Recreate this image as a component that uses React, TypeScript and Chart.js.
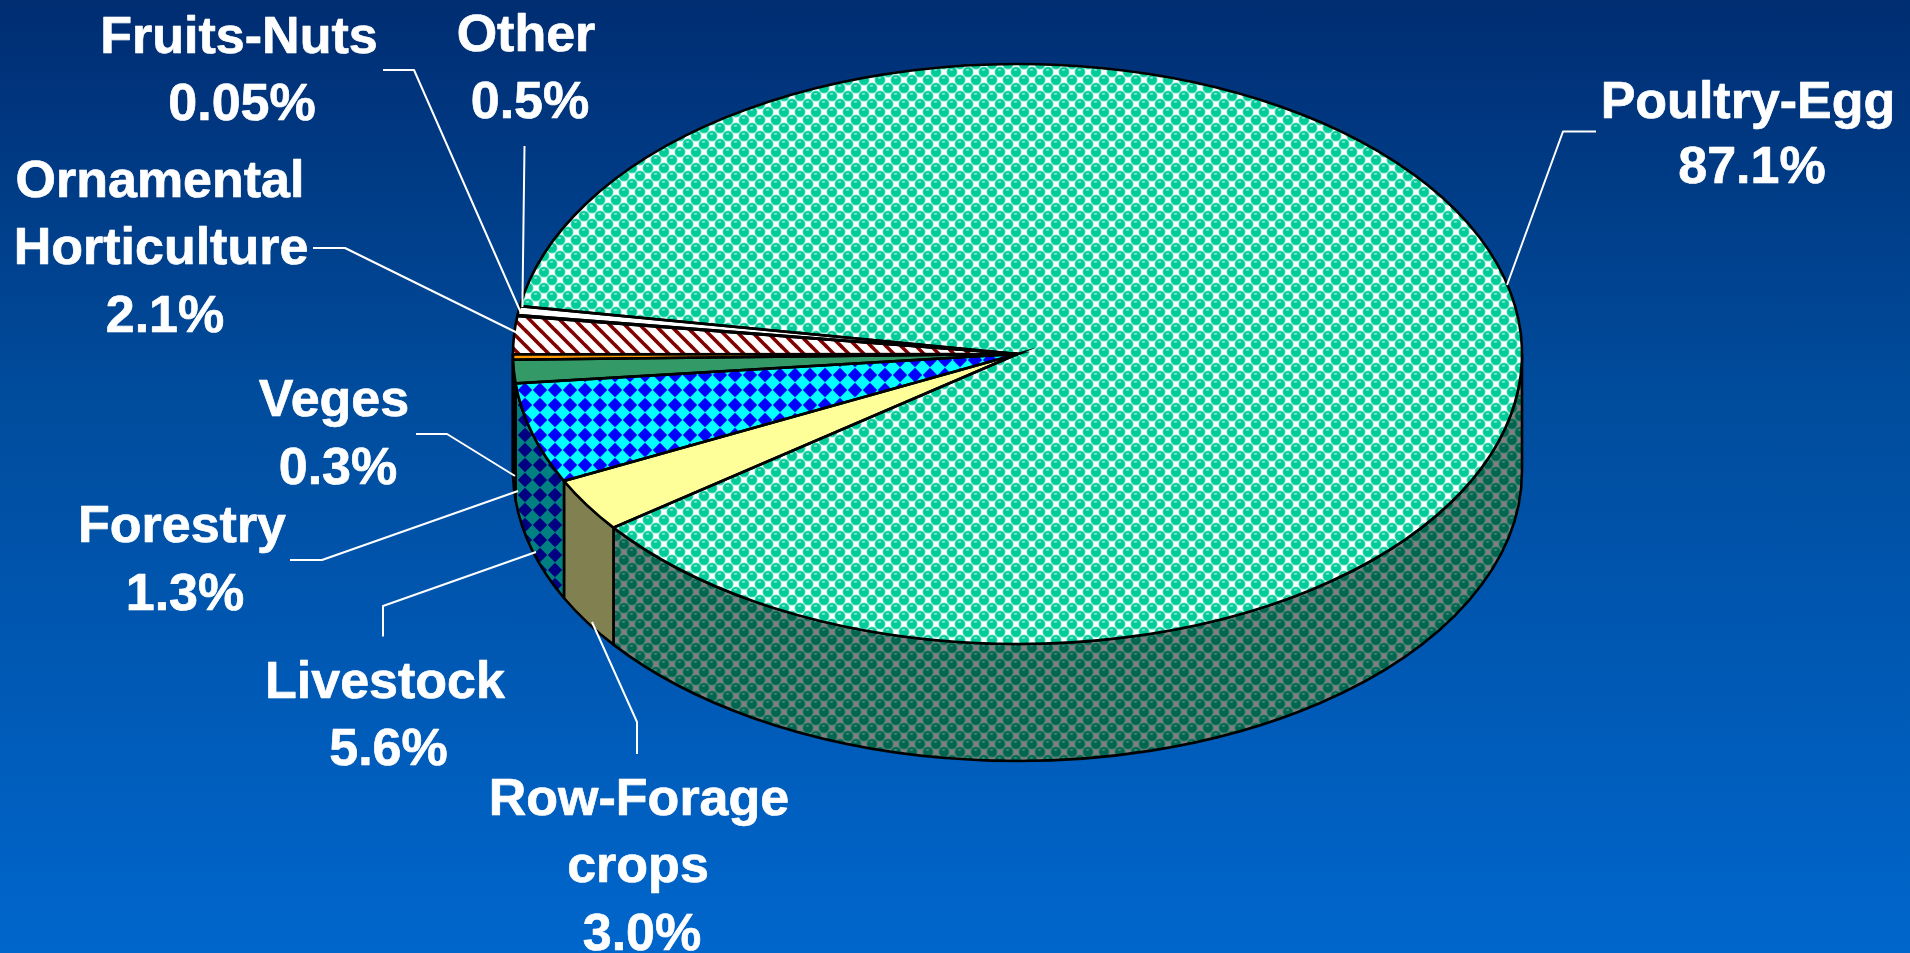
import React, { useEffect, useRef } from "react";
import { Chart, registerables } from "chart.js";

Chart.register(...registerables);

// ---- data ----
const categories = ["Poultry-Egg", "Row-Forage crops", "Livestock", "Forestry", "Veges", "Ornamental Horticulture", "Fruits-Nuts", "Other"];
const shares = [87.1, 3.0, 5.6, 1.3, 0.3, 2.1, 0.05, 0.5];
const shareLabels = ["87.1%", "3.0%", "5.6%", "1.3%", "0.3%", "2.1%", "0.05%", "0.5%"];
const labelLines = [["Poultry-Egg"], ["Row-Forage", "crops"], ["Livestock"], ["Forestry"], ["Veges"], ["Ornamental", "Horticulture"], ["Fruits-Nuts"], ["Other"]];

// ---- layout ----
const WIDTH = 1910;
const HEIGHT = 953;
const PIE_LEFT = 513;
const PIE_RIGHT = 1522;
const PIE_TOP = 64;
const PIE_BOTTOM = 644;
const DEPTH = 117;
const ROTATION = 279.5;
const textAnchors = [
  [[1748, 118], [1752, 183]],
  [[639, 815], [638, 881.5], [642, 950]],
  [[385, 698], [388.5, 765]],
  [[182, 541.5], [185, 610]],
  [[334, 416], [338, 484]],
  [[160, 197], [161, 264], [165, 332]],
  [[239, 53], [242, 120]],
  [[526, 51], [530, 118]],
];
const leaderPaths = [
  [[1596, 131.5], [1563, 131.5], [1507, 285]],
  [[637, 754], [637, 722], [592, 622]],
  [[383, 636.5], [383, 606], [536, 552]],
  [[290, 560], [322, 560], [518, 491]],
  [[416, 434], [447, 434], [515, 476]],
  [[313, 248], [345, 248], [517.6, 333]],
  [[383, 70], [414, 70], [521, 313]],
  [[524.5, 146], [522.4, 307]],
];

// ---- fills ----
function tile(w: number, h: number, paint: (c: CanvasRenderingContext2D) => void): CanvasPattern {
  const cv = document.createElement("canvas");
  cv.width = w;
  cv.height = h;
  const c = cv.getContext("2d")!;
  paint(c);
  return c.createPattern(cv, "repeat")!;
}

function spheres(bg: string, ball: string, shine: string, rim: string) {
  const size = 16;
  return tile(size, size, (c) => {
    c.fillStyle = bg;
    c.fillRect(0, 0, size, size);
    const ballAt = (x: number, y: number) => {
      c.fillStyle = rim;
      c.beginPath();
      c.arc(x, y, 5.5, 0, Math.PI * 2);
      c.fill();
      c.fillStyle = ball;
      c.beginPath();
      c.arc(x, y, 4.6, 0, Math.PI * 2);
      c.fill();
      c.fillStyle = shine;
      c.beginPath();
      c.ellipse(x - 0.5, y - 2.2, 1.8, 0.9, 0, 0, Math.PI * 2);
      c.fill();
    };
    [[0, 0], [16, 0], [0, 16], [16, 16], [8, 8]].forEach(([x, y]) => ballAt(x, y));
  });
}

function diamonds(bg: string, fg: string) {
  const size = 15;
  return tile(size, size, (c) => {
    c.fillStyle = bg;
    c.fillRect(0, 0, size, size);
    c.fillStyle = fg;
    const r = 7.2;
    [[0, 0], [15, 0], [0, 15], [15, 15]].forEach(([x, y]) => {
      c.beginPath();
      c.moveTo(x - r, y);
      c.lineTo(x, y - r);
      c.lineTo(x + r, y);
      c.lineTo(x, y + r);
      c.closePath();
      c.fill();
    });
  });
}

function stripes(bg: string, fg: string) {
  const size = 15;
  return tile(size, size, (c) => {
    c.fillStyle = bg;
    c.fillRect(0, 0, size, size);
    c.strokeStyle = fg;
    c.lineWidth = 3.6;
    for (let o = -size; o <= size; o += size) {
      c.beginPath();
      c.moveTo(o - 2, -2);
      c.lineTo(o + size + 2, size + 2);
      c.stroke();
    }
  });
}

export default function App() {
  const ref = useRef<HTMLCanvasElement>(null);

  useEffect(() => {
    document.body.style.margin = "0";
    const topPoultry = spheres("#FFFFFF", "#00CC99", "#8FE8D2", "#4FDCB8");
    const topLivestock = diamonds("#00FFFF", "#0000FF");
    const topOrnamental = stripes("#FFFFFF", "#800000");
    const topFills: (string | CanvasPattern)[] = ["", "#FFFF99", "", "#339966", "#FF9900", "", "#FFFFFF", "#FFFFFF"];
    topFills[0] = topPoultry;
    topFills[2] = topLivestock;
    topFills[5] = topOrnamental;
    const wallFills: (string | CanvasPattern)[] = [
      spheres("#808080", "#006650", "#408C78", "#2A7A66"),
      "#808050",
      diamonds("#008080", "#000080"),
      "#1A4D33",
      "#804D00",
      "#808080",
      "#808080",
      "#808080",
    ];

    const pie3d = {
      id: "pie3d",
      beforeDatasetsDraw(chart: any) {
        const { ctx, chartArea } = chart;
        const arcs = chart.getDatasetMeta(0).data;
        const rx = chartArea.width / 2;
        const ry = chartArea.height / 2;
        const cx = chartArea.left + rx;
        const cy = chartArea.top + ry;
        const sx = rx / ry;
        // walls: the lower half of the rim, dropped by the pie's depth
        ctx.save();
        ctx.strokeStyle = "#000000";
        ctx.lineWidth = 2.6;
        ctx.lineJoin = "round";
        const turn = Math.PI * 2;
        arcs.forEach((arc: any, i: number) => {
          const { startAngle, endAngle } = arc.getProps(["startAngle", "endAngle"], true);
          for (let k = -1; k <= 3; k++) {
            const a0 = Math.max(startAngle, k * turn);
            const a1 = Math.min(endAngle, k * turn + Math.PI);
            if (a1 <= a0) continue;
            ctx.beginPath();
            ctx.ellipse(cx, cy, rx, ry, 0, a0, a1);
            ctx.ellipse(cx, cy + DEPTH, rx, ry, 0, a1, a0, true);
            ctx.closePath();
            ctx.fillStyle = wallFills[i];
            ctx.fill();
            ctx.stroke();
          }
        });
        ctx.restore();
        // keep the top patterns undistorted by the squash used for the arcs
        const undo = new DOMMatrix().translate(cx, cy).scale(1 / sx, 1).translate(-cx, -cy);
        [topPoultry, topLivestock, topOrnamental].forEach((p) => p.setTransform(undo));
      },
      beforeDatasetDraw(chart: any) {
        const { ctx, chartArea } = chart;
        const rx = chartArea.width / 2;
        const ry = chartArea.height / 2;
        const cx = chartArea.left + rx;
        const cy = chartArea.top + ry;
        ctx.save();
        ctx.translate(cx, cy);
        ctx.scale(rx / ry, 1);
        ctx.translate(-cx, -cy);
      },
      afterDatasetDraw(chart: any) {
        const { ctx, chartArea } = chart;
        ctx.restore();
        const arcs = chart.getDatasetMeta(0).data;
        const rx = chartArea.width / 2;
        const ry = chartArea.height / 2;
        const cx = chartArea.left + rx;
        const cy = chartArea.top + ry;
        ctx.save();
        ctx.strokeStyle = "#000000";
        ctx.lineWidth = 2.6;
        ctx.lineJoin = "miter";
        ctx.miterLimit = 20;
        arcs.forEach((arc: any) => {
          const { startAngle, endAngle } = arc.getProps(["startAngle", "endAngle"], true);
          ctx.beginPath();
          ctx.moveTo(cx, cy);
          ctx.ellipse(cx, cy, rx, ry, 0, startAngle, endAngle);
          ctx.closePath();
          ctx.stroke();
        });
        ctx.restore();
      },
      afterDatasetsDraw(chart: any) {
        const { ctx } = chart;
        ctx.save();
        ctx.strokeStyle = "#FFFFFF";
        ctx.lineWidth = 2;
        ctx.lineJoin = "round";
        leaderPaths.forEach((path) => {
          ctx.beginPath();
          path.forEach(([x, y], j) => (j ? ctx.lineTo(x, y) : ctx.moveTo(x, y)));
          ctx.stroke();
        });
        ctx.fillStyle = "#FFFFFF";
        ctx.lineWidth = 0.7;
        ctx.font = 'bold 52px "Liberation Sans", Arial, sans-serif';
        ctx.textAlign = "center";
        ctx.textBaseline = "alphabetic";
        labelLines.forEach((lines, i) => {
          [...lines, shareLabels[i]].forEach((text, j) => {
            const [x, y] = textAnchors[i][j];
            ctx.fillText(text, x, y);
            ctx.strokeText(text, x, y);
          });
        });
        ctx.restore();
      },
    };

    const chart = new Chart(ref.current!, {
      type: "pie",
      data: {
        labels: categories,
        datasets: [{ data: shares, backgroundColor: topFills as any, borderWidth: 0, hoverOffset: 0 }],
      },
      options: {
        responsive: false,
        animation: false,
        rotation: ROTATION,
        events: [],
        layout: {
          padding: { left: PIE_LEFT, right: WIDTH - PIE_RIGHT, top: PIE_TOP, bottom: HEIGHT - PIE_BOTTOM },
        },
        plugins: { legend: { display: false }, tooltip: { enabled: false }, title: { display: false } },
      },
      plugins: [pie3d],
    } as any);
    return () => chart.destroy();
  }, []);

  return (
    <canvas
      ref={ref}
      width={WIDTH}
      height={HEIGHT}
      style={{ display: "block", width: WIDTH, height: HEIGHT, background: "linear-gradient(to bottom, #002D72 0%, #004B9B 40%, #0066CC 100%)" }}
    />
  );
}
